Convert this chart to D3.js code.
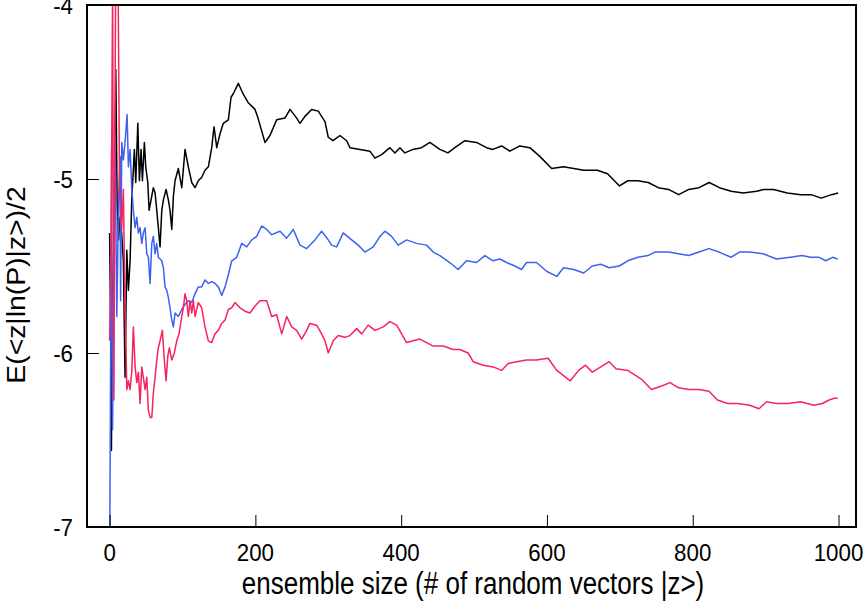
<!DOCTYPE html>
<html>
<head>
<meta charset="utf-8">
<script src="https://cdn.jsdelivr.net/npm/d3@7"></script>
<style>
  html, body { margin: 0; padding: 0; background: #fff; }
  svg { display: block; }
  text { font-family: "Liberation Sans", Arial, sans-serif; fill: #000; }
</style>
</head>
<body>
<svg id="chart" width="864" height="605"></svg>
<script>
// ---- data ----
const xTicks = [0, 200, 400, 600, 800, 1000];
const yTicks = [-4, -5, -6, -7];
const xLabel = "ensemble size (# of random vectors |z>)";
const yLabel = "E(<z|ln(P)|z>)/2";

const blackX = [0,1.4,2.5,4.1,6.2,8.5,10.3,12.3,14.4,16.5,18.9,21.2,23.6,25.8,28.1,30.4,34,35.9,38.7,40.9,43.2,45,47.7,49.6,52.4,54.2,56.9,60,62.4,64.7,66.9,69.2,71.6,73.8,77.5,80.6,82.9,85.3,87.5,89.8,94.3,99,103.5,108,112.7,117.2,121.7,126.4,130.9,135.5,140.1,143.3,147,151.5,156,162.9,166.6,169.7,176.6,183,189.9,199.5,203.6,213.2,220,229.2,240.6,247.5,256.7,261.2,268,277.2,286.3,295.5,300,306.4,316,325.2,329.7,343.4,357.1,364,373.2,384.6,391.4,398.3,405.1,416.1,428,439.4,453.1,464.1,473.7,487.4,503.4,517.1,525.8,537.7,549.1,562.8,576.5,590.2,606.5,622.7,636.7,650.5,669.2,683.2,699.5,710.9,724.6,739,752.8,766.8,780.8,794.5,808.6,822.6,836.6,852.8,869.1,887.7,897.3,911,929.7,948.3,962.3,976.3,990.3,999.5];
const blackY = [-5.31,-5.81,-6.56,-5.70,-5.29,-4.37,-5.12,-5.35,-5.22,-5.31,-5.47,-6.14,-5.41,-5.64,-5.47,-5.12,-4.83,-5.02,-4.68,-5.01,-4.83,-5.01,-4.79,-4.93,-5.02,-5.18,-5.12,-5.05,-5.08,-5.18,-5.28,-5.39,-5.18,-5.12,-5.06,-5.12,-5.18,-5.29,-5.10,-5.01,-4.94,-5.05,-4.83,-4.93,-5.02,-5.05,-5.01,-4.99,-4.95,-4.93,-4.82,-4.70,-4.82,-4.74,-4.68,-4.66,-4.53,-4.51,-4.45,-4.51,-4.56,-4.60,-4.65,-4.79,-4.75,-4.66,-4.65,-4.60,-4.65,-4.68,-4.64,-4.60,-4.61,-4.67,-4.76,-4.78,-4.75,-4.78,-4.82,-4.83,-4.84,-4.88,-4.86,-4.82,-4.85,-4.82,-4.85,-4.83,-4.82,-4.79,-4.83,-4.85,-4.82,-4.78,-4.79,-4.82,-4.83,-4.81,-4.84,-4.81,-4.82,-4.87,-4.94,-4.93,-4.94,-4.95,-4.95,-4.97,-5.04,-5.01,-5.01,-5.02,-5.05,-5.06,-5.09,-5.06,-5.05,-5.02,-5.05,-5.07,-5.08,-5.07,-5.06,-5.06,-5.08,-5.09,-5.09,-5.11,-5.09,-5.08];

const blueX = [0,2.7,4.1,7.5,9.9,12.3,14.4,15.1,16.7,18.9,21.2,24,25.8,28.1,30.4,32.6,35,37.3,39.5,41.8,44.1,46.3,48.7,51,53.2,55.5,57.9,60,62.4,64.7,66.9,71.6,73.8,76.1,78.4,80.6,82.9,85.3,87.5,89.8,94.3,99,103.5,108,112.7,117.2,121.7,126.4,130.9,135.5,140.1,144.6,149.2,153.8,158.4,162.9,167.5,174.4,181.2,188.1,195,201.8,208.7,215.5,222.4,233.8,242.9,252,261.2,270.4,281.7,290.9,300,304.6,311.5,320.5,332.1,341.1,350.3,361.7,370.9,377.7,386.9,395.9,407.5,421.2,434.9,443.9,453.1,466.8,478.2,489.7,503.4,514.8,526.2,535.4,544.6,555.9,565.1,572,585.7,599.5,613.4,622.7,636.7,650.5,662.2,673.9,685.4,699.3,710.9,724.8,738.8,748,766.7,780.5,794.5,808.5,822.3,836.3,852.5,864.1,878.1,896.6,915.1,933.8,949.9,961.6,973.3,982.6,991.8,998.8];
const blueY = [-7.3,-4.83,-6.44,-4.74,-5.79,-5.12,-4.87,-5.70,-4.79,-4.89,-4.79,-4.63,-4.93,-4.83,-5.05,-5.18,-5.28,-5.22,-5.31,-5.28,-5.37,-5.31,-5.28,-5.43,-5.45,-5.60,-5.37,-5.33,-5.43,-5.37,-5.45,-5.47,-5.51,-5.62,-5.64,-5.68,-5.74,-5.81,-5.85,-5.77,-5.79,-5.75,-5.72,-5.70,-5.71,-5.66,-5.62,-5.62,-5.58,-5.60,-5.59,-5.60,-5.62,-5.67,-5.62,-5.55,-5.47,-5.45,-5.37,-5.39,-5.35,-5.33,-5.27,-5.29,-5.32,-5.30,-5.34,-5.29,-5.38,-5.40,-5.35,-5.30,-5.35,-5.38,-5.39,-5.31,-5.35,-5.38,-5.42,-5.39,-5.33,-5.30,-5.33,-5.38,-5.35,-5.37,-5.38,-5.42,-5.44,-5.48,-5.52,-5.47,-5.48,-5.44,-5.47,-5.46,-5.48,-5.50,-5.52,-5.48,-5.48,-5.53,-5.56,-5.51,-5.52,-5.54,-5.50,-5.49,-5.51,-5.50,-5.47,-5.45,-5.44,-5.42,-5.42,-5.43,-5.44,-5.42,-5.40,-5.42,-5.45,-5.42,-5.42,-5.43,-5.46,-5.45,-5.44,-5.45,-5.45,-5.47,-5.45,-5.46];

const redX = [0,2.1,4.1,5.9,8.2,11.7,13.7,16.5,18.9,20.6,23.6,25.8,28.1,30.4,32.6,35,37.3,39.5,41.8,44.1,46.3,48.7,51,53.2,55.5,57.9,60,62.4,64.7,66.9,69.2,72.4,75.1,77.5,79.8,82,85.3,88.8,92.1,95.3,99,101.2,103.5,105.8,108,110.4,112.7,114.9,117.2,121.7,126.4,130.9,135.5,140.1,144.6,149.2,153.8,158.4,162.9,167.5,172.1,178.9,185.8,192.6,199.5,206.3,215.5,222.4,229.2,236.1,243,249.8,256.7,263.5,270.4,274.9,284.1,290.9,295.5,300,306.8,313.7,322.9,329.7,338.9,345.8,354.8,364,375.4,384.6,393.8,400.6,407.5,416.5,425.7,434.9,443.9,457.6,471.3,480.5,491.9,498.8,512.5,526.2,537.7,546.8,558.3,572,585.7,601.6,613.4,622.7,632,643.5,652.9,662.2,673.9,685.4,694.7,710.9,729.5,743.4,757.3,769,780.5,794.5,808.5,822.3,834,848,861.8,878.1,891,901.3,915.1,931.5,947.8,966.3,977.9,987.1,994.1,998.8];
const redY = [-5.93,-5.41,-3.9,-6.27,-3.9,-3.9,-5.06,-5.29,-5.06,-5.58,-6.21,-6.16,-6.21,-6.11,-5.85,-6.08,-6.17,-6.11,-6.29,-6.08,-6.14,-6.21,-6.14,-6.33,-6.37,-6.37,-6.23,-6.14,-6.04,-5.97,-5.93,-5.87,-6.04,-6.16,-6.02,-5.97,-6.04,-6.00,-5.93,-5.89,-5.79,-5.74,-5.66,-5.70,-5.79,-5.70,-5.77,-5.70,-5.79,-5.71,-5.74,-5.85,-5.93,-5.94,-5.89,-5.87,-5.83,-5.81,-5.75,-5.74,-5.71,-5.74,-5.76,-5.77,-5.73,-5.70,-5.70,-5.79,-5.78,-5.89,-5.79,-5.85,-5.87,-5.92,-5.87,-5.83,-5.84,-5.89,-5.93,-6.00,-5.93,-5.90,-5.91,-5.90,-5.86,-5.89,-5.84,-5.87,-5.85,-5.82,-5.84,-5.89,-5.94,-5.93,-5.92,-5.94,-5.96,-5.96,-5.98,-5.98,-6.00,-6.05,-6.07,-6.08,-6.10,-6.06,-6.05,-6.04,-6.04,-6.03,-6.10,-6.13,-6.16,-6.10,-6.07,-6.11,-6.08,-6.05,-6.09,-6.10,-6.15,-6.21,-6.19,-6.17,-6.20,-6.21,-6.21,-6.22,-6.27,-6.29,-6.29,-6.30,-6.32,-6.28,-6.29,-6.29,-6.28,-6.30,-6.29,-6.27,-6.26,-6.26];

const seriesColors = ["#000000", "#3b62f2", "#f5245c"];

// ---- drawing ----
const plot = { left: 87, right: 856, top: 5, bottom: 527 };
const svg = d3.select("#chart");

const x = d3.scaleLinear().domain([-31, 1024]).range([plot.left, plot.right]);
const y = d3.scaleLinear().domain([-7, -4]).range([plot.bottom, plot.top]);

svg.append("defs").append("clipPath").attr("id", "clip")
  .append("rect")
  .attr("x", plot.left).attr("y", plot.top)
  .attr("width", plot.right - plot.left).attr("height", plot.bottom - plot.top);

const series = [
  { xs: blackX, ys: blackY, color: seriesColors[0] },
  { xs: blueX, ys: blueY, color: seriesColors[1] },
  { xs: redX, ys: redY, color: seriesColors[2] }
];

const line = d3.line().x(d => x(d[0])).y(d => y(d[1]));
const g = svg.append("g").attr("clip-path", "url(#clip)");
series.forEach(s => {
  const pts = s.xs.map((v, i) => [v, s.ys[i]]);
  g.append("path").datum(pts)
    .attr("d", line)
    .attr("fill", "none")
    .attr("stroke", s.color)
    .attr("stroke-width", 1.5)
    .attr("stroke-linejoin", "round");
});

// axes (inward ticks)
const xAxis = d3.axisTop(x).tickValues(xTicks).tickSize(12).tickFormat("");
svg.append("g").attr("transform", `translate(0,${plot.bottom})`).call(xAxis)
  .call(a => a.select(".domain").remove())
  .selectAll("line").attr("stroke", "#000").attr("stroke-width", 1);

const yAxis = d3.axisRight(y).tickValues(yTicks).tickSize(12).tickFormat("");
svg.append("g").attr("transform", `translate(${plot.left},0)`).call(yAxis)
  .call(a => a.select(".domain").remove())
  .selectAll("line").attr("stroke", "#000").attr("stroke-width", 1);

// tick labels (slightly tall glyphs as in the reference)
svg.append("g").selectAll("text").data(xTicks).join("text")
  .attr("transform", d => `translate(${x(d)},561) scale(0.97,1.08)`)
  .attr("text-anchor", "middle")
  .style("font-size", "23px")
  .text(d => d);

svg.append("g").selectAll("text").data(yTicks).join("text")
  .attr("transform", d => `translate(73,${y(d) + 9}) scale(0.97,1.08)`)
  .attr("text-anchor", "end")
  .style("font-size", "23px")
  .text(d => d);

// frame
svg.append("rect")
  .attr("x", plot.left).attr("y", plot.top)
  .attr("width", plot.right - plot.left).attr("height", plot.bottom - plot.top)
  .attr("fill", "none").attr("stroke", "#000").attr("stroke-width", 2);

// axis titles
svg.append("text")
  .attr("transform", `translate(473,594) scale(1,1.2)`)
  .attr("text-anchor", "middle")
  .style("font-size", "26px")
  .text(xLabel);

svg.append("text")
  .attr("transform", `translate(25,285) rotate(-90) scale(1.09,1)`)
  .attr("text-anchor", "middle")
  .style("font-size", "26px")
  .text(yLabel);
</script>
</body>
</html>
